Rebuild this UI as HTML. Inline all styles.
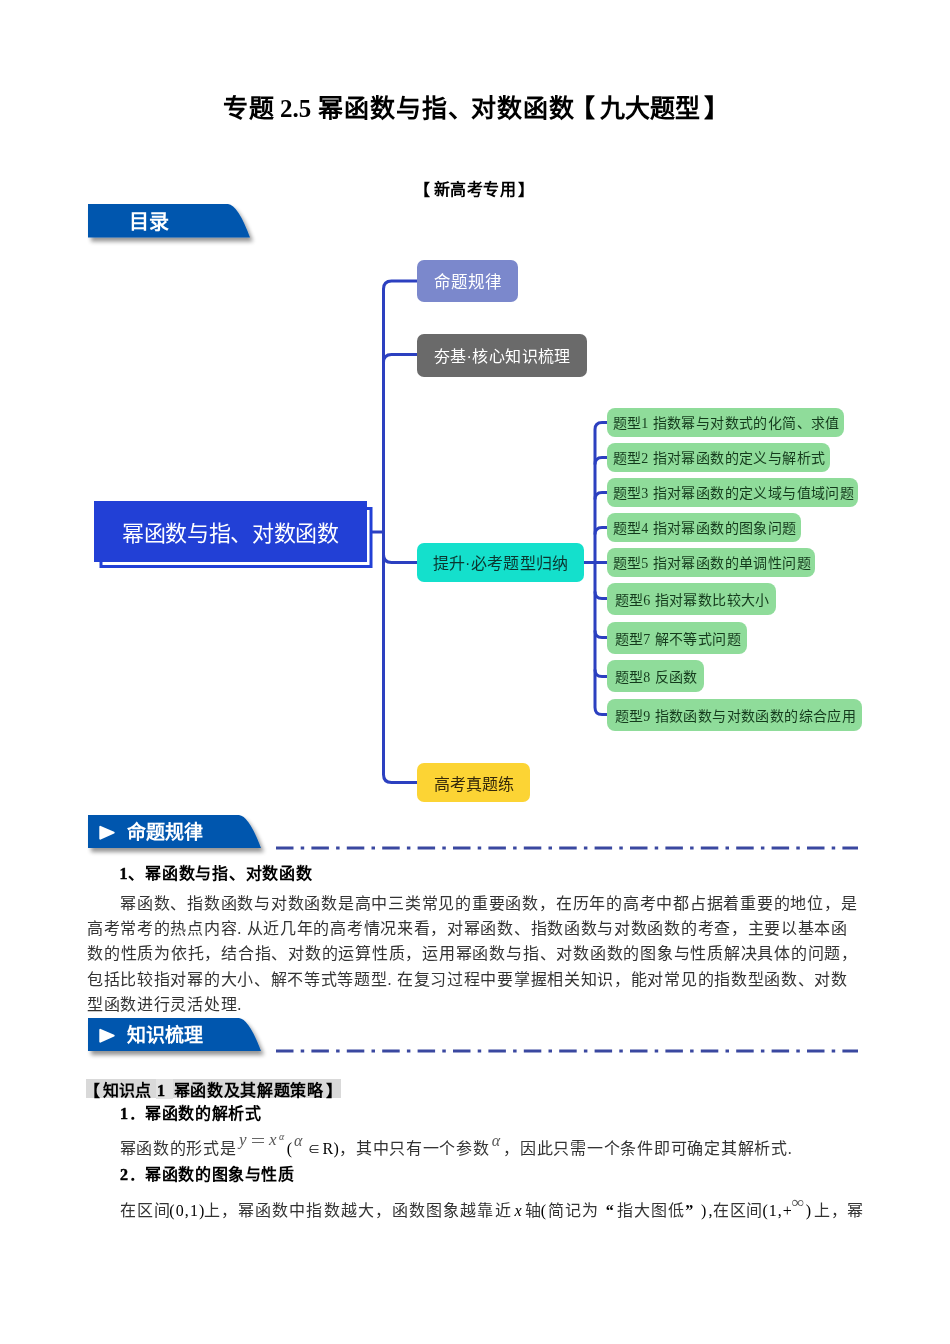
<!DOCTYPE html>
<html lang="zh-CN">
<head>
<meta charset="utf-8">
<style>
html,body{margin:0;padding:0;background:#fff;}
body{width:950px;height:1344px;position:relative;overflow:hidden;will-change:transform;font-family:"Liberation Serif",serif;color:#000;}
.t{position:absolute;white-space:nowrap;line-height:1;}
.b{font-weight:bold;}
.mm{font-family:"Liberation Sans",sans-serif;}
.box{position:absolute;border-radius:7px;}
.g{position:absolute;background:#8fdc9a;border-radius:8px;height:29px;}
.gt{position:absolute;left:5.5px;top:8px;font-size:14px;letter-spacing:0.4px;line-height:1;white-space:nowrap;color:#143a1c;font-family:"Liberation Sans",sans-serif;}
.gt span{font-family:"Liberation Serif",serif;}
.p{font-size:16px;letter-spacing:0.7px;}
.r{color:#333;}
.d{-webkit-text-stroke:0.45px #000;}
.m{font-style:italic;color:#555;}
</style>
</head>
<body>
<!-- Title -->
<div class="t b" style="left:223.2px;top:96.2px;font-size:25px;letter-spacing:0.9px;">专题</div>
<div class="t b" style="left:280px;top:96.2px;font-size:25px;">2.5</div>
<div class="t b" style="left:318px;top:96.2px;font-size:25px;letter-spacing:0.9px;">幂函数与指</div>
<div class="t b" style="left:448.3px;top:96.2px;font-size:25px;">、</div>
<div class="t b" style="left:471.3px;top:96.2px;font-size:25px;letter-spacing:0.9px;">对数函数</div>
<div class="t b" style="left:569.6px;top:96.2px;font-size:25px;">【</div>
<div class="t b" style="left:600.4px;top:96.2px;font-size:25px;">九大题型</div>
<div class="t b" style="left:704.2px;top:96.2px;font-size:25px;">】</div>
<div class="t b" style="left:413.7px;top:182.3px;font-size:16px;">【</div>
<div class="t b" style="left:434px;top:182.3px;font-size:16px;letter-spacing:0.4px;">新高考专用</div>
<div class="t b" style="left:518.4px;top:182.3px;font-size:16px;">】</div>

<svg width="950" height="1344" style="position:absolute;left:0;top:0">
  <defs>
    <filter id="sh" x="-10%" y="-30%" width="130%" height="180%">
      <feGaussianBlur in="SourceAlpha" stdDeviation="2"/>
      <feOffset dx="3" dy="3.5" result="o"/>
      <feComponentTransfer><feFuncA type="linear" slope="0.42"/></feComponentTransfer>
      <feMerge><feMergeNode/><feMergeNode in="SourceGraphic"/></feMerge>
    </filter>
  </defs>
  <!-- banners -->
  <path d="M88,204 L228,204 Q238,205 250,237.5 L88,237.5 Z" fill="#0556ae" filter="url(#sh)"/>
  <path d="M88,815 L239,815 Q249,816 261,848 L88,848 Z" fill="#0556ae" filter="url(#sh)"/>
  <path d="M88,1018 L239,1018 Q249,1019 261,1051 L88,1051 Z" fill="#0556ae" filter="url(#sh)"/>
  <path d="M100.3,826.8 L113.7,832.6 L100.3,838.7 Z" fill="#fff" stroke="#fff" stroke-width="2" stroke-linejoin="round"/>
  <path d="M100.3,1029.8 L113.7,1035.6 L100.3,1041.7 Z" fill="#fff" stroke="#fff" stroke-width="2" stroke-linejoin="round"/>
  <!-- dash-dot lines -->
  <line x1="276" y1="848" x2="858" y2="848" stroke="#3a48a0" stroke-width="3" stroke-dasharray="17.5 7.2 3.5 7.2"/>
  <line x1="276" y1="1051" x2="858" y2="1051" stroke="#3a48a0" stroke-width="3" stroke-dasharray="17.5 7.2 3.5 7.2"/>

  <!-- mind map lines -->
  <g fill="none" stroke="#2c40c0" stroke-width="3">
    <path d="M417,281 L391.5,281 Q383.5,281 383.5,289 L383.5,774.5 Q383.5,782.5 391.5,782.5 L417,782.5"/>
    <path d="M383.5,362.5 Q383.5,354.5 391.5,354.5 L417,354.5"/>
    <path d="M383.5,554.5 Q383.5,562.5 391.5,562.5 L417,562.5"/>
    <path d="M372,532 L383.5,532"/>
    <path d="M584,562.5 L607,562.5"/>
    <path d="M607,422.5 L602,422.5 Q595,422.5 595,429.5 L595,707.5 Q595,714.5 602,714.5 L607,714.5"/>
    <path d="M595,464.5 Q595,457.5 602,457.5 L607,457.5"/>
    <path d="M595,499.5 Q595,492.5 602,492.5 L607,492.5"/>
    <path d="M595,534.5 Q595,527.5 602,527.5 L607,527.5"/>
    <path d="M595,591.5 Q595,598.5 602,598.5 L607,598.5"/>
    <path d="M595,630.5 Q595,637.5 602,637.5 L607,637.5"/>
    <path d="M595,669.5 Q595,676.5 602,676.5 L607,676.5"/>
  </g>
  <!-- central node -->
  <rect x="101" y="508.5" width="270" height="58" fill="#fff" stroke="#2240d6" stroke-width="3"/>
  <rect x="94" y="501" width="273" height="61" fill="#2240d6"/>
</svg>

<!-- mind map nodes -->
<div class="t mm" style="left:122px;top:522.5px;font-size:22px;letter-spacing:-0.35px;color:#fff;">幂函数与指、对数函数</div>

<div class="box" style="left:417px;top:260px;width:101px;height:42px;background:#7b88cc;"></div>
<div class="t mm" style="left:433.5px;top:273.5px;font-size:16.5px;color:#fff;">命题规律</div>

<div class="box" style="left:417px;top:334px;width:170px;height:43px;background:#6a6a6a;"></div>
<div class="t mm" style="left:433.5px;top:348.5px;font-size:16px;letter-spacing:0.45px;color:#fff;">夯基·核心知识梳理</div>

<div class="box" style="left:417px;top:543px;width:167px;height:39px;background:#14e0cc;"></div>
<div class="t mm" style="left:432.5px;top:556px;font-size:16px;letter-spacing:0.3px;color:#0b3630;">提升·必考题型归纳</div>

<div class="box" style="left:417px;top:763px;width:113px;height:39px;background:#fcd434;"></div>
<div class="t mm" style="left:434px;top:776.5px;font-size:16px;color:#35290a;">高考真题练</div>

<div class="g" style="left:607px;top:408px;width:237px;"><div class="gt">题型<span>1 </span>指数幂与对数式的化简、求值</div></div>
<div class="g" style="left:607px;top:443px;width:223px;"><div class="gt">题型<span>2 </span>指对幂函数的定义与解析式</div></div>
<div class="g" style="left:607px;top:478px;width:251px;"><div class="gt">题型<span>3 </span>指对幂函数的定义域与值域问题</div></div>
<div class="g" style="left:607px;top:513px;width:194px;"><div class="gt">题型<span>4 </span>指对幂函数的图象问题</div></div>
<div class="g" style="left:607px;top:548px;width:208px;"><div class="gt">题型<span>5 </span>指对幂函数的单调性问题</div></div>
<div class="g" style="left:607px;top:583px;width:169px;height:32px;"><div class="gt" style="top:10px;left:7.5px">题型<span>6 </span>指对幂数比较大小</div></div>
<div class="g" style="left:607px;top:622px;width:140px;height:32px;"><div class="gt" style="top:10px;left:7.5px">题型<span>7 </span>解不等式问题</div></div>
<div class="g" style="left:607px;top:660px;width:97px;height:32px;"><div class="gt" style="top:10px;left:7.5px">题型<span>8 </span>反函数</div></div>
<div class="g" style="left:607px;top:699px;width:255px;height:32px;"><div class="gt" style="top:10px;left:7.5px">题型<span>9 </span>指数函数与对数函数的综合应用</div></div>

<!-- banner texts -->
<div class="t mm b" style="left:129px;top:211.5px;font-size:20px;color:#fff;">目录</div>
<div class="t mm b" style="left:127px;top:822.7px;font-size:19px;color:#fff;">命题规律</div>
<div class="t mm b" style="left:127px;top:1025.7px;font-size:19px;color:#fff;">知识梳理</div>

<!-- body -->
<div class="t b" style="left:119.5px;top:865.5px;font-size:16px;letter-spacing:0.75px;"><span class="d">1</span>、幂函数与指、对数函数</div>
<div class="t p r" style="left:120px;top:895.5px;letter-spacing:0.76px;">幂函数、指数函数与对数函数是高中三类常见的重要函数，在历年的高考中都占据着重要的地位，是</div>
<div class="t p r" style="left:87px;top:921px;">高考常考的热点内容. 从近几年的高考情况来看，对幂函数、指数函数与对数函数的考查，主要以基本函</div>
<div class="t p r" style="left:87px;top:946.4px;letter-spacing:0.76px;">数的性质为依托，结合指、对数的运算性质，运用幂函数与指、对数函数的图象与性质解决具体的问题，</div>
<div class="t p r" style="left:87px;top:971.9px;">包括比较指对幂的大小、解不等式等题型. 在复习过程中要掌握相关知识，能对常见的指数型函数、对数</div>
<div class="t p r" style="left:87px;top:997.3px;">型函数进行灵活处理.</div>

<div style="position:absolute;left:86px;top:1079px;width:255px;height:19px;background:#d9d9d9;"></div>
<div style="position:absolute;left:155.5px;top:1079px;width:17.5px;height:20px;background:#e3e3e3;"></div>
<div class="t b" style="left:83.6px;top:1083.2px;font-size:16px;">【</div>
<div class="t b" style="left:103.2px;top:1083.2px;font-size:16px;letter-spacing:0.1px;">知识点</div>
<div class="t b" style="left:156.9px;top:1083.2px;font-size:16px;"><span class="d">1</span></div>
<div class="t b" style="left:173.6px;top:1083.2px;font-size:16px;letter-spacing:0.7px;">幂函数及其解题策略</div>
<div class="t b" style="left:325.5px;top:1083.2px;font-size:16px;">】</div>
<div class="t b" style="left:120px;top:1105.5px;font-size:16px;letter-spacing:0.6px;"><span class="d">1</span>．幂函数的解析式</div>

<div class="t p r" style="left:119.7px;top:1140.5px;">幂函数的形式是</div>
<div class="t m" style="left:239.1px;top:1131.4px;font-size:17px;">y</div>
<div style="position:absolute;left:252px;top:1138px;width:12px;height:1.3px;background:#666;"></div>
<div style="position:absolute;left:252px;top:1141.6px;width:12px;height:1.3px;background:#666;"></div>
<div class="t m" style="left:269.1px;top:1131.4px;font-size:17px;">x</div>
<div class="t m" style="left:279.1px;top:1132px;font-size:10px;">α</div>
<div class="t" style="left:286.8px;top:1140.5px;font-size:16px;">(</div>
<div class="t m" style="left:294px;top:1132.6px;font-size:16px;">α</div>
<div class="t" style="left:308.3px;top:1144px;font-size:12px;">∈</div>
<div class="t" style="left:322.6px;top:1140.5px;font-size:16px;">R</div>
<div class="t" style="left:333.4px;top:1140.5px;font-size:16px;">)</div>
<div class="t p r" style="left:339.2px;top:1140.5px;">，其中只有一个参数</div>
<div class="t m" style="left:491.8px;top:1133px;font-size:16px;">α</div>
<div class="t p r" style="left:503px;top:1140.5px;letter-spacing:0.75px;">，因此只需一个条件即可确定其解析式.</div>

<div class="t b" style="left:120px;top:1167px;font-size:16px;letter-spacing:0.6px;"><span class="d">2</span>．幂函数的图象与性质</div>

<div class="t r" style="left:119.9px;top:1203px;font-size:16px;letter-spacing:1px;">在区间</div>
<div class="t" style="left:169.3px;top:1203px;font-size:16px;letter-spacing:1.1px;">(0,1)</div>
<div class="t r" style="left:203.9px;top:1203px;font-size:16px;letter-spacing:1.1px;">上，幂函数中指数越大，函数图象越靠近</div>
<div class="t" style="left:514.4px;top:1203px;font-size:16px;font-style:italic;">x</div>
<div class="t r" style="left:524.5px;top:1203px;font-size:16px;">轴</div>
<div class="t" style="left:540.7px;top:1203px;font-size:16px;">(</div>
<div class="t r" style="left:548.1px;top:1203px;font-size:16px;letter-spacing:1px;">简记为</div>
<div class="t" style="left:605.8px;top:1202.5px;font-size:16px;font-weight:bold;">“</div>
<div class="t r" style="left:616.6px;top:1203px;font-size:16px;letter-spacing:1px;">指大图低</div>
<div class="t" style="left:685.3px;top:1202.5px;font-size:16px;font-weight:bold;">”</div>
<div class="t" style="left:701.1px;top:1203px;font-size:16px;letter-spacing:2px;">),</div>
<div class="t r" style="left:713.2px;top:1203px;font-size:16px;letter-spacing:0.6px;">在区间</div>
<div class="t" style="left:762.4px;top:1203px;font-size:16px;letter-spacing:1px;">(1,+</div>
<div class="t m" style="left:791.7px;top:1193.8px;font-size:17px;">∞</div>
<div class="t" style="left:805.8px;top:1203px;font-size:16px;">)</div>
<div class="t r" style="left:813.7px;top:1203px;font-size:16px;letter-spacing:1px;">上，</div>
<div class="t r" style="left:847.3px;top:1203px;font-size:16px;">幂</div>
</body>
</html>
